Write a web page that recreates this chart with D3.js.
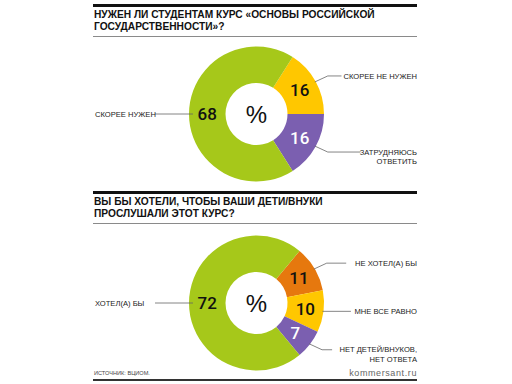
<!DOCTYPE html>
<html><head><meta charset="utf-8">
<script src="https://cdn.jsdelivr.net/npm/d3@7"></script>
<style>body{margin:0;background:#fff}svg{display:block}</style>
</head><body>
<svg id="c" width="512" height="384"></svg>
<script>
const title1 = ["НУЖЕН ЛИ СТУДЕНТАМ КУРС «ОСНОВЫ РОССИЙСКОЙ", "ГОСУДАРСТВЕННОСТИ»?"];
const cats1 = ["СКОРЕЕ НЕ НУЖЕН", "ЗАТРУДНЯЮСЬ|ОТВЕТИТЬ", "СКОРЕЕ НУЖЕН"];
const vals1 = [16, 16, 68];
const colors1 = ["#ffc700", "#7b5fb0", "#a6c81a"];
const valColors1 = ["#111", "#fff", "#111"];

const title2 = ["ВЫ БЫ ХОТЕЛИ, ЧТОБЫ ВАШИ ДЕТИ/ВНУКИ", "ПРОСЛУШАЛИ ЭТОТ КУРС?"];
const cats2 = ["НЕ ХОТЕЛ(А) БЫ", "МНЕ ВСЕ РАВНО", "НЕТ ДЕТЕЙ/ВНУКОВ,|НЕТ ОТВЕТА", "ХОТЕЛ(А) БЫ"];
const vals2 = [11, 10, 7, 72];
const colors2 = ["#e6780e", "#ffc700", "#7b5fb0", "#a6c81a"];
const valColors2 = ["#111", "#111", "#fff", "#111"];

const source = "ИСТОЧНИК: ВЦИОМ.";
const brand = "kommersant.ru";

const svg = d3.select("#c");
const L = 93, R = 417;
const font = "'Liberation Sans', Arial, sans-serif";

function section(top, title, cats, vals, colors, valColors, cy) {
  svg.append("rect").attr("x", L).attr("y", top).attr("width", R - L).attr("height", 3).attr("fill", "#111");
  title.forEach((t, i) => {
    svg.append("text").attr("x", L + 1).attr("y", top + 14 + i * 12)
      .attr("font-family", font).attr("font-weight", "bold").attr("font-size", 10.2)
      .attr("fill", "#111").text(t);
  });
  svg.append("rect").attr("x", L).attr("y", top + 32).attr("width", R - L).attr("height", 1).attr("fill", "#8a8a8a");

  const cx = 256.5, rO = 67.5, rI = 31;
  const total = d3.sum(vals);
  const minor = total - vals[vals.length - 1];
  const start = Math.PI / 2 - (minor / total) * Math.PI;
  const pie = d3.pie().sort(null).startAngle(start).endAngle(start + 2 * Math.PI);
  const arcs = pie(vals);
  const arc = d3.arc().innerRadius(rI).outerRadius(rO);
  const g = svg.append("g").attr("transform", `translate(${cx},${cy})`);
  g.selectAll("path").data(arcs).join("path").attr("d", arc).attr("fill", (d, i) => colors[i]);
  g.selectAll("text.v").data(arcs).join("text").attr("class", "v")
    .attr("transform", d => `translate(${arc.centroid(d)})`)
    .attr("text-anchor", "middle").attr("dy", "0.36em")
    .attr("font-family", "Roboto, 'Liberation Sans', sans-serif").attr("font-size", 17).attr("font-weight", 500)
    .attr("fill", (d, i) => valColors[i]).text(d => d.data);
  g.append("text").attr("text-anchor", "middle").attr("dy", "0.36em")
    .attr("font-family", font).attr("font-size", 24).attr("fill", "#111").text("%");

  arcs.forEach((d, i) => {
    const mid = (d.startAngle + d.endAngle) / 2;
    const lines = cats[i].split("|");
    if (i === arcs.length - 1) {
      const y = cy - Math.cos(mid) * (rO - 3);
      const px = Math.sin(mid) * (rO - 3);
      svg.append("line").attr("x1", 155).attr("x2", cx + px + 1).attr("y1", y).attr("y2", y)
        .attr("stroke", "#666").attr("stroke-width", 0.8);
      svg.append("text").attr("x", L + 2).attr("y", y).attr("dy", "0.35em")
        .attr("font-family", font).attr("font-size", 7.6).attr("fill", "#222").text(lines[0]);
    } else {
      const sx = cx + Math.sin(mid) * (rO - 1), sy = cy - Math.cos(mid) * (rO - 1);
      const dyAng = -Math.cos(mid);
      const flat = Math.abs(dyAng) < 0.15;
      const ty = flat ? sy : sy + (dyAng < 0 ? -6 : 6);
      const ex = R - lines.reduce((m, s) => Math.max(m, s.length), 0) * 4.7 - 5;
      const pts = flat ? [[sx, sy], [ex, sy]] : [[sx, sy], [sx + 13, ty], [ex, ty]];
      svg.append("path").attr("d", d3.line()(pts)).attr("fill", "none").attr("stroke", "#666").attr("stroke-width", 0.8);
      lines.forEach((s, k) => {
        svg.append("text").attr("x", R).attr("y", ty + k * 9.5).attr("dy", "0.35em")
          .attr("text-anchor", "end").attr("font-family", font).attr("font-size", 7.6)
          .attr("fill", "#222").text(s);
      });
    }
  });
}

section(4, title1, cats1, vals1, colors1, valColors1, 114);
section(191, title2, cats2, vals2, colors2, valColors2, 303);

svg.append("text").attr("x", L + 1).attr("y", 375).attr("font-family", font).attr("font-size", 5.6)
  .attr("fill", "#444").text(source);
svg.append("text").attr("x", R).attr("y", 376).attr("text-anchor", "end").attr("font-family", font)
  .attr("font-size", 9).attr("letter-spacing", 0.6).attr("fill", "#666").text(brand);
svg.append("rect").attr("x", L).attr("y", 379).attr("width", R - L).attr("height", 2).attr("fill", "#333");
</script>
</body></html>
